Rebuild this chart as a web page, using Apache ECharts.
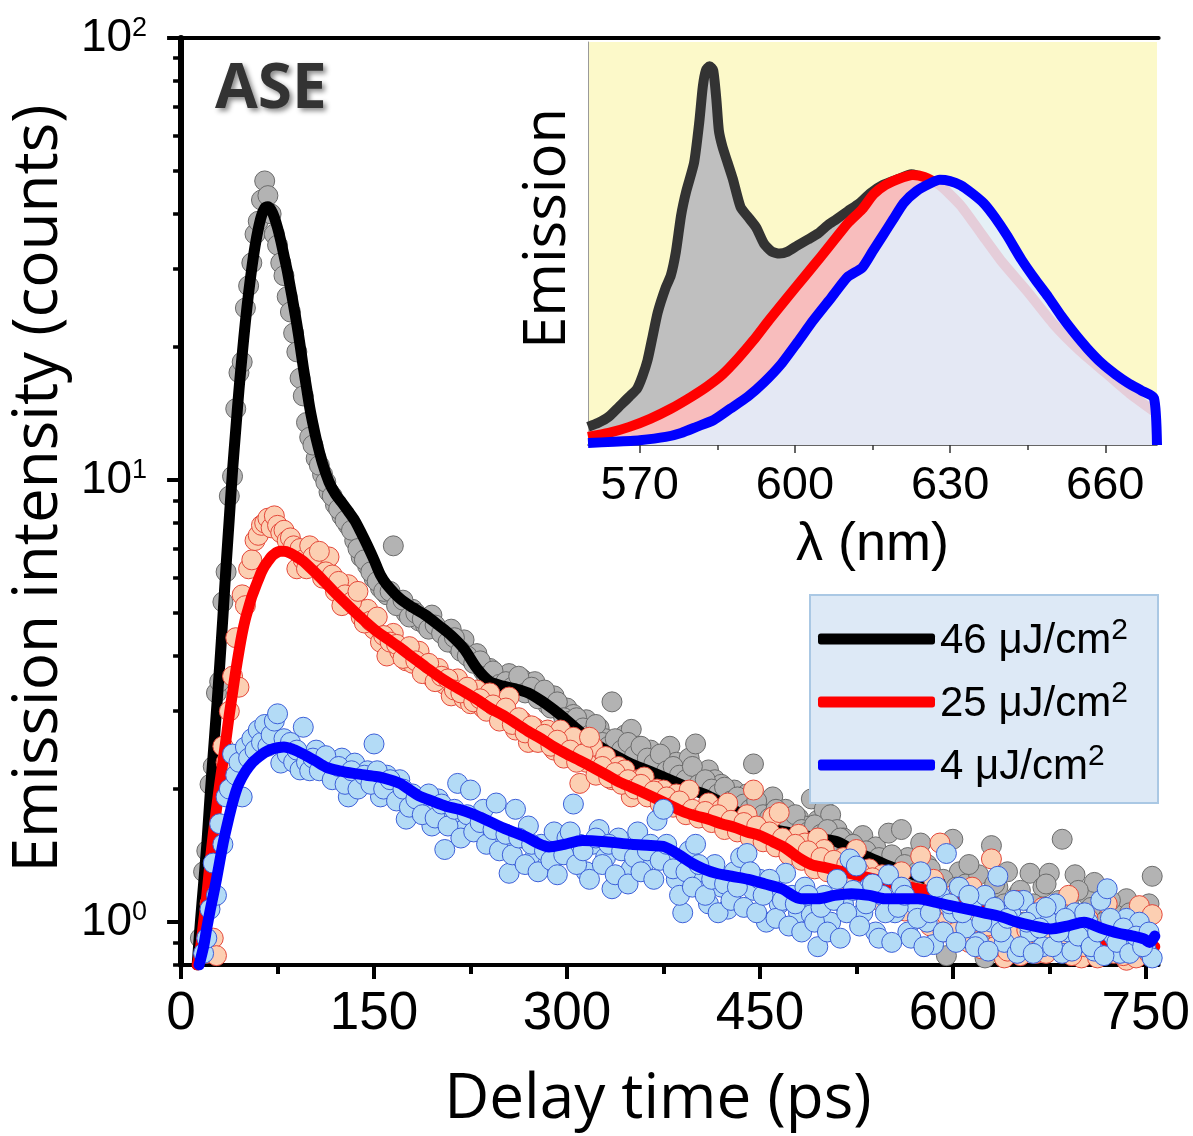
<!DOCTYPE html>
<html><head><meta charset="utf-8">
<script src="https://cdn.jsdelivr.net/npm/echarts@6/dist/echarts.min.js"></script>
<style>html,body{margin:0;padding:0;background:#fff}#c{width:1193px;height:1136px}</style>
</head><body><div id="c"></div>
<script>
// ---------- main panel: decay traces ----------
const delayPs = [15,17.5,20,22.5,25,27.5,30,32.5,35,37.5,40,42.5,45,47.5,50,52.5,55,57.5,60,62.5,65,67.5,70,72.5,75,77.5,80,82.5,85,87.5,90,92.5,95,97.5,100,
105,110,115,120,125,130,135,140,145,150,155,160,165,170,175,180,185,190,195,200,
205,210,215,220,225,230,235,240,245,250,255,260,265,270,275,280,285,290,295,300,
305,310,315,320,325,330,335,340,345,350,355,360,365,370,375,380,385,390,395,400,
405,410,415,420,425,430,435,440,445,450,455,460,465,470,475,480,485,490,495,500,
505,510,515,520,525,530,535,540,545,550,555,560,565,570,575,580,585,590,595,600,
605,610,615,620,625,630,635,640,645,650,655,660,665,670,675,680,685,690,695,700,
705,710,715,720,725,730,735,740,745,750,755];

const counts46 = [0.92,1.3,1.45,2.05,2.25,3.3,3.5,5.3,6.2,9.2,10.2,14.5,17.5,18.5,24.5,27.5,31,36,38.5,43,47.5,44,40,36,34,31,29,26,24,21.5,19.5,17,15.5,13.5,12.5,
11.2,10.3,9.4,8.8,8.3,7.9,7.3,6.7,6.4,6.0,5.7,5.5,7.1,5.3,5.0,5.1,4.8,4.7,4.95,4.6,
4.45,4.6,4.2,4.35,3.95,4.05,3.7,3.75,3.6,3.55,3.65,3.45,3.55,3.35,3.5,3.3,3.1,3.25,3.0,3.05,
2.95,2.8,2.87,2.7,2.75,2.6,3.15,2.55,2.65,2.73,2.5,2.42,2.45,2.35,2.3,2.5,2.3,2.2,2.35,2.53,
2.15,2.21,2.1,2.05,1.95,1.99,1.9,1.95,2.28,1.85,1.78,1.92,1.75,1.8,1.7,1.72,1.65,1.9,1.7,1.8,
1.75,1.62,1.55,1.5,1.45,1.57,1.42,1.48,1.38,1.59,1.35,1.62,1.4,1.3,1.51,1.35,1.25,1.2,0.84,1.54,
1.3,1.22,1.15,1.28,0.83,1.49,1.2,1.1,1.05,1.15,1.0,1.29,1.08,1.2,1.29,0.95,1.54,1.1,1.28,1.02,
1.15,1.23,0.98,1.08,0.92,1.05,1.13,0.95,1.02,0.9,1.27];

const counts25 = [null,null,0.85,1.1,0.92,0.84,1.6,2.5,2.3,3.0,3.6,4.4,3.4,5.5,5.2,6.3,6.6,7.3,7.5,7.9,8.0,8.2,7.8,8.3,7.9,7.6,7.7,7.3,7.4,7.1,6.3,7.0,6.6,6.3,7.1,
6.4,6.0,6.7,5.6,5.2,5.8,5.4,4.9,5.1,4.6,4.3,4.0,4.5,4.1,3.9,3.85,4.1,3.7,3.58,3.75,
3.45,3.25,3.55,3.2,3.12,3.35,3.05,3.3,3.0,2.95,3.23,2.72,2.85,2.55,2.75,2.6,2.72,2.45,2.72,2.38,
2.62,2.06,2.3,2.5,2.2,2.37,2.1,2.25,2.21,1.92,2.1,2.13,1.95,2.0,1.99,1.85,1.95,1.8,1.99,1.78,
1.73,1.86,1.7,1.8,1.86,1.68,1.62,1.75,1.99,1.6,1.55,1.73,1.77,1.5,1.45,1.58,1.51,1.38,1.55,1.46,
1.35,1.3,1.4,1.25,1.46,1.2,1.32,1.15,1.28,1.22,1.1,1.3,1.18,1.05,1.41,1.12,1.25,1.51,1.0,1.15,
0.92,1.08,1.2,0.98,1.1,1.39,0.95,0.83,1.05,1.12,0.9,1.0,0.85,1.08,0.92,0.98,0.87,1.15,0.95,0.83,
1.02,0.88,0.95,1.1,0.85,0.92,0.82,1.0,1.09,0.86,1.04];

const counts4 = [null,0.85,0.92,1.07,1.36,1.15,1.67,1.5,1.92,2.0,2.4,2.15,2.3,1.92,2.49,2.35,2.6,2.45,2.72,2.55,2.8,2.5,2.65,2.85,2.96,2.29,2.6,2.4,2.55,2.3,2.45,2.21,2.76,2.3,2.2,
2.45,2.3,2.2,2.17,2.35,1.92,2.29,2.1,2.2,2.53,1.92,2.15,2.0,2.1,1.71,1.95,1.8,1.85,1.65,1.9,
1.46,1.75,2.06,1.62,1.99,1.7,1.8,1.6,1.86,1.5,1.29,1.8,1.55,1.65,1.4,1.5,1.35,1.6,1.42,1.55,
1.85,1.5,1.3,1.5,1.62,1.4,1.19,1.55,1.45,1.32,1.6,1.36,1.5,1.7,1.8,1.4,1.25,1.05,1.45,1.5,
1.3,1.1,1.35,1.2,1.07,1.3,1.4,1.43,1.18,1.25,1.0,1.2,1.1,1.29,1.15,1.05,1.2,1.04,0.88,1.15,
1.0,1.25,1.1,1.39,1.34,1.05,1.2,0.95,1.15,1.28,1.05,1.2,0.95,1.1,1.3,1.0,0.89,1.15,1.43,1.05,
1.2,0.97,1.1,0.9,1.15,1.0,1.27,0.9,1.05,0.85,1.12,0.95,1.05,0.88,1.0,1.1,0.85,0.95,1.05,0.9,
1.0,0.86,1.12,1.19,0.93,0.85,1.02,0.9,1.0,0.87,0.83];

// interleaved delays (second half of the sampling)
const delayPsB = [102.5,107.5,112.5,117.5,122.5,127.5,132.5,137.5,142.5,147.5,152.5,157.5,162.5,167.5,172.5,177.5,182.5,187.5,192.5,197.5,
202.5,207.5,212.5,217.5,222.5,227.5,232.5,237.5,242.5,247.5,252.5,257.5,262.5,267.5,272.5,277.5,282.5,287.5,292.5,297.5,
302.5,307.5,312.5,317.5,322.5,327.5,332.5,337.5,342.5,347.5,352.5,357.5,362.5,367.5,372.5,377.5,382.5,387.5,392.5,397.5,
402.5,407.5,412.5,417.5,422.5,427.5,432.5,437.5,442.5,447.5,452.5,457.5,462.5,467.5,472.5,477.5,482.5,487.5,492.5,497.5,
502.5,507.5,512.5,517.5,522.5,527.5,532.5,537.5,542.5,547.5,552.5,557.5,562.5,567.5,572.5,577.5,582.5,587.5,592.5,597.5,
602.5,607.5,612.5,617.5,622.5,627.5,632.5,637.5,642.5,647.5,652.5,657.5,662.5,667.5,672.5,677.5,682.5,687.5,692.5,697.5,
702.5,707.5,712.5,717.5,722.5,727.5,732.5,737.5,742.5,747.5,752.5];

const counts46b = [12.0,10.8,9.9,9.2,8.6,8.1,7.7,7.0,6.6,6.2,5.9,5.6,5.6,5.2,5.35,4.9,5.0,4.85,4.6,4.7,
4.5,4.3,4.4,4.1,4.0,3.85,3.9,3.6,3.7,3.45,3.5,3.4,3.6,3.3,3.4,3.2,3.35,3.05,3.15,2.9,
2.85,2.9,2.75,2.65,2.8,2.55,2.5,2.6,2.45,2.55,2.38,2.5,2.35,2.28,2.4,2.2,2.25,2.15,2.1,2.25,
2.05,2.1,2.0,1.95,2.02,1.88,1.92,1.85,1.8,1.88,1.75,1.72,1.8,1.68,1.65,1.75,1.62,1.6,1.66,1.58,
1.62,1.5,1.55,1.45,1.5,1.38,1.45,1.35,1.4,1.3,1.42,1.28,1.35,1.22,1.3,1.18,1.32,1.15,1.25,1.1,
1.2,1.05,1.35,1.0,1.12,0.95,1.22,1.02,1.3,0.9,1.18,0.97,1.1,0.88,1.22,1.0,1.12,0.93,1.05,1.18,
0.9,1.08,0.86,1.0,1.12,0.88,0.98,1.05,0.85,0.95,1.1];

const counts25b = [6.7,6.9,6.2,6.1,5.9,5.5,5.3,5.6,4.75,4.8,4.9,4.45,4.3,4.25,3.95,4.2,3.9,3.65,3.85,3.5,
3.6,3.55,3.35,3.3,3.4,3.15,3.2,3.0,3.1,2.85,3.05,2.8,2.9,2.68,2.78,2.55,2.66,2.5,2.58,2.35,
2.45,2.3,2.4,2.62,2.15,2.25,2.12,2.18,2.05,2.1,2.0,2.05,1.92,1.98,1.85,1.92,1.82,1.88,1.75,1.8,
1.72,1.78,1.68,1.75,1.62,1.7,1.6,1.68,1.55,1.65,1.52,1.6,1.48,1.55,1.42,1.5,1.38,1.45,1.32,1.4,
1.3,1.38,1.25,1.35,1.22,1.3,1.18,1.26,1.12,1.22,1.1,1.2,1.06,1.15,1.02,1.12,0.98,1.1,0.95,1.08,
0.95,1.05,0.9,1.0,0.87,0.98,0.88,1.02,0.86,0.95,0.84,0.96,0.88,0.93,0.85,1.02,0.88,0.94,0.84,0.97,
0.88,0.93,0.83,0.9,0.86,0.96,0.84,0.9,0.83,0.94,0.85];

const counts4b = [2.35,2.2,2.38,2.1,2.25,2.05,2.2,2.0,2.15,2.05,2.2,2.0,2.1,1.88,2.0,1.82,1.9,1.75,1.95,1.72,
1.85,1.65,1.8,1.55,1.75,1.6,1.68,1.5,1.62,1.45,1.58,1.42,1.55,1.35,1.5,1.3,1.45,1.38,1.28,1.42,
1.6,1.35,1.45,1.25,1.55,1.35,1.5,1.28,1.45,1.22,1.4,1.3,1.45,1.25,1.38,1.5,1.32,1.15,1.3,1.2,
1.35,1.15,1.25,1.05,1.22,1.12,1.2,1.08,1.3,1.05,1.15,1.25,1.02,1.12,0.98,1.1,0.95,1.15,1.0,1.08,
0.95,1.12,0.92,1.05,1.18,0.98,1.1,1.22,0.92,1.05,0.9,1.08,1.15,0.92,1.02,0.88,1.05,1.2,0.95,1.1,
0.9,1.05,1.15,0.88,1.0,0.86,1.08,0.95,1.02,1.12,0.88,1.0,0.85,0.97,1.08,0.88,0.95,1.02,0.86,0.93,
1.05,0.88,0.95,0.84,1.02,0.9,0.97,0.85,0.93,0.88,0.95];

// fitted curves
const fit46Time = [12.5,15,17.5,20,22.5,25,27.5,30,32.5,35,37.5,40,42.5,45,47.5,50,52.5,55,57.5,60,62.5,65,67.5,70,72.5,75,77.5,80,82.5,85,87.5,90,92.5,95,97.5,100,102.5,105,110,115,120,125,130,135,140,145,150,155,160,170,180,190,200,210,220,230,240,250,260,270,280,290,300,310,320,330,340,350,360,370,380,390,400,410,420,430,440,450,460,470,480,490,500,510,520,530,540,550,560,570,580,590];
const fit46 = [0.8,1.0,1.22,1.5,1.92,2.4,3.0,3.8,4.9,6.4,8.2,10.5,13.0,16,19.2,22.8,26.5,30.2,33.8,37,39.6,41.2,41.5,40.8,39.3,37.2,34.8,32.2,29.8,27.2,24.8,22.5,20.2,18,16.2,14.6,13.4,12.4,10.9,9.9,9.3,8.9,8.5,8.1,7.6,7.1,6.6,6.1,5.8,5.4,5.15,4.95,4.7,4.45,4.15,3.75,3.5,3.42,3.37,3.3,3.17,3.02,2.86,2.7,2.56,2.45,2.36,2.28,2.22,2.16,2.1,2.04,1.98,1.93,1.86,1.79,1.72,1.66,1.62,1.6,1.58,1.56,1.54,1.52,1.47,1.42,1.38,1.34,1.31,1.28,1.25,1.23];

const fit25Time = [12.5,15,17.5,20,22.5,25,27.5,30,32.5,35,37.5,40,42.5,45,47.5,50,52.5,55,57.5,60,62.5,65,67.5,70,72.5,75,77.5,80,85,90,95,100,110,120,130,140,150,160,170,180,190,200,210,220,230,240,250,260,270,280,290,300,310,320,330,340,350,360,370,380,390,400,410,420,430,440,450,460,470,480,490,500,510,520,540,560,585,600,620,650,680,710,740,757];
const fit25 = [0.8,0.87,1.0,1.15,1.36,1.58,1.8,2.05,2.3,2.6,2.95,3.3,3.7,4.1,4.5,4.85,5.15,5.45,5.7,5.95,6.2,6.4,6.55,6.7,6.8,6.87,6.9,6.9,6.83,6.7,6.55,6.35,5.95,5.55,5.2,4.88,4.6,4.38,4.18,3.97,3.78,3.6,3.45,3.32,3.19,3.05,2.94,2.82,2.7,2.6,2.49,2.4,2.32,2.24,2.16,2.08,2.02,1.96,1.9,1.84,1.78,1.74,1.71,1.67,1.64,1.6,1.57,1.52,1.47,1.4,1.35,1.33,1.31,1.29,1.25,1.21,1.17,1.12,1.08,1.01,0.96,0.91,0.89,0.88];

const fit4Time = [14,17.5,20,22.5,25,27.5,30,32.5,35,37.5,40,42.5,45,50,55,60,65,70,75,80,87,95,104,113,123,134,144,154,162,170,178,185,195,206,216,226,236,247,258,268,277,286,298,312,330,350,365,376,387,397,406,416,428,441,454,467,482,495,508,521,535,547,560,573,586,598,611,624,637,650,663,676,689,702,715,728,740,749,753,757];
const fit4 = [0.8,0.88,0.97,1.06,1.15,1.25,1.37,1.5,1.62,1.74,1.86,1.97,2.06,2.19,2.29,2.36,2.42,2.46,2.48,2.49,2.46,2.4,2.32,2.24,2.2,2.17,2.15,2.13,2.1,2.06,1.99,1.93,1.88,1.83,1.8,1.76,1.71,1.65,1.6,1.56,1.51,1.48,1.5,1.53,1.52,1.5,1.49,1.48,1.42,1.36,1.32,1.29,1.27,1.25,1.22,1.19,1.13,1.13,1.15,1.16,1.15,1.13,1.13,1.13,1.11,1.09,1.07,1.05,1.03,1.0,0.98,0.965,0.98,1.0,0.97,0.945,0.93,0.915,0.9,0.93];

const xMajorTicks = [0,150,300,450,600,750];
const xMinorTicks = [75,225,375,525,675];
const yMajorTicks = [1,10,100];
const yMinorTicks = [0.8,0.9,2,3,4,5,6,7,8,9,20,30,40,50,60,70,80,90];

// ---------- inset: emission spectra ----------
const spec46Nm = [560,562,564,566,568,569.5,570.5,571.5,572.5,573.5,575,576,577,578,579,580.5,581.5,582.2,582.8,583.5,584.2,584.8,585.3,586,587,588,589.5,591,592.5,594,595.5,597,598.6,600.5,602.5,604.5,606.3,608,610.2,612.5,614.6,617,620,622.5,625,628,632,636,640,645,650,655,660,665,670];
const spec46 = [0.045,0.055,0.07,0.095,0.12,0.14,0.17,0.21,0.27,0.33,0.39,0.42,0.48,0.57,0.63,0.70,0.80,0.89,0.93,0.94,0.93,0.86,0.78,0.74,0.70,0.66,0.59,0.565,0.54,0.5,0.48,0.475,0.48,0.495,0.51,0.525,0.545,0.56,0.58,0.60,0.625,0.645,0.66,0.672,0.66,0.635,0.58,0.51,0.44,0.36,0.28,0.215,0.16,0.11,0.07];
const spec25Nm = [560,564,568,572,576,580,583,586,589,592,595,598.6,602,605,608,610.2,613,615.2,617.5,620,622.8,625,628,632,636,640,645,650,655,660,665,670];
const spec25 = [0.02,0.03,0.045,0.065,0.09,0.12,0.145,0.175,0.215,0.26,0.31,0.367,0.42,0.467,0.515,0.55,0.585,0.622,0.645,0.66,0.67,0.665,0.645,0.595,0.525,0.455,0.38,0.3,0.235,0.18,0.125,0.078];
const spec4Nm = [560,565,570,575,578,581,584.3,587.5,590.9,594,597.3,600.5,603.6,607,610.2,613,615,617,619,621,623.5,626.3,628,630,632,634.2,636.5,638.6,641,643.8,646.5,649,651.5,654,656.5,659.3,662,664.4,667,669.4,670];
const spec4 = [0.005,0.008,0.012,0.02,0.03,0.045,0.062,0.09,0.12,0.155,0.2,0.255,0.31,0.365,0.417,0.44,0.48,0.52,0.56,0.6,0.63,0.65,0.658,0.655,0.645,0.625,0.6,0.566,0.52,0.46,0.41,0.367,0.32,0.278,0.24,0.203,0.175,0.154,0.135,0.117,0];
const insetMajorTicks = [570,600,630,660];
const insetMinorTicks = [585,615,645];

const seriesNames = ['46 \u03bcJ/cm\u00b2','25 \u03bcJ/cm\u00b2','4 \u03bcJ/cm\u00b2'];

// ---------- build ----------
const zip = (xs, ys) => xs.map((x, i) => [x, ys[i]]).filter(d => d[1] != null);
const chart = echarts.init(document.getElementById('c'), null, {renderer: 'canvas'});

const numFont = 'Liberation Sans, Arial, sans-serif';
const titleFont = 'Open Sans, sans-serif';

function scatter(name, data, fill, stroke, z) {
  return {type: 'scatter', name, xAxisIndex: 0, yAxisIndex: 0, data, symbol: 'circle', symbolSize: 20,
    itemStyle: {color: fill, borderColor: stroke, borderWidth: 1, opacity: 1}, silent: true, z};
}
function fitLine(name, data, color, z) {
  return {type: 'line', name, xAxisIndex: 0, yAxisIndex: 0, data, showSymbol: false, symbol: 'none', smooth: 0.3,
    lineStyle: {color, width: 11, cap: 'round', join: 'round'}, itemStyle: {color}, silent: true, z};
}
function specLine(name, data, color, fill, z) {
  return {type: 'line', name, xAxisIndex: 3, yAxisIndex: 3, data, showSymbol: false, symbol: 'none', smooth: 0.2,
    lineStyle: {color, width: 10, join: 'round'}, areaStyle: {color: fill, opacity: 1}, silent: true, z};
}

const option = {
  backgroundColor: '#ffffff',
  animation: false,
  grid: [
    {left: 181, right: 33, top: 38, bottom: 167, show: false},
    {left: 588, right: 36, top: 42, bottom: 691, show: true, backgroundColor: '#fcf9c9', borderWidth: 0}
  ],
  xAxis: [
    {gridIndex: 0, type: 'value', min: 0, max: 760, position: 'bottom',
     axisLine: {show: true, lineStyle: {color: '#000', width: 4}},
     axisTick: {show: true, customValues: xMajorTicks, length: 14, lineStyle: {color: '#000', width: 4}},
     axisLabel: {customValues: xMajorTicks, fontSize: 53, fontFamily: numFont, color: '#000', margin: 23},
     splitLine: {show: false},
     name: 'Delay time (ps)', nameLocation: 'middle', nameGap: 104,
     nameTextStyle: {fontSize: 62, fontFamily: titleFont, color: '#000', padding: [0, 24, 0, 0]}},
    {gridIndex: 0, type: 'value', min: 0, max: 760, position: 'bottom',
     axisLine: {show: false},
     axisTick: {show: true, customValues: xMinorTicks, length: 9, lineStyle: {color: '#000', width: 4}},
     axisLabel: {show: false}, splitLine: {show: false}},
    {gridIndex: 0, type: 'value', min: 0, max: 760, position: 'top',
     axisLine: {show: true, lineStyle: {color: '#000', width: 4}},
     axisTick: {show: false}, axisLabel: {show: false}, splitLine: {show: false}},
    {gridIndex: 1, type: 'value', min: 560, max: 670, position: 'bottom',
     axisLine: {show: true, lineStyle: {color: '#333', width: 1.5}},
     axisTick: {show: true, customValues: insetMajorTicks, length: 8, lineStyle: {color: '#333', width: 1.5}},
     axisLabel: {customValues: insetMajorTicks, fontSize: 47, fontFamily: numFont, color: '#000', margin: 18},
     splitLine: {show: false},
     name: '\u03bb (nm)', nameLocation: 'middle', nameGap: 73,
     nameTextStyle: {fontSize: 54, fontFamily: numFont, color: '#000'}},
    {gridIndex: 1, type: 'value', min: 560, max: 670, position: 'bottom',
     axisLine: {show: false},
     axisTick: {show: true, customValues: insetMinorTicks, length: 5, lineStyle: {color: '#333', width: 1.5}},
     axisLabel: {show: false}, splitLine: {show: false}}
  ],
  yAxis: [
    {gridIndex: 0, type: 'log', logBase: 10, min: 0.8, max: 100, position: 'left',
     axisLine: {show: true, lineStyle: {color: '#000', width: 4}},
     axisTick: {show: true, customValues: yMajorTicks, length: 14, lineStyle: {color: '#000', width: 4}},
     axisLabel: {customValues: yMajorTicks, margin: 34, color: '#000',
       formatter: function (v) {
         const l = Math.log10(v), e = Math.round(l);
         if (Math.abs(l - e) > 1e-6) return '';
         return '{b|10}{s|' + e + '}';
       },
       rich: {b: {fontSize: 46, fontFamily: numFont, color: '#000', lineHeight: 46, verticalAlign: 'bottom'},
              s: {fontSize: 27, fontFamily: numFont, color: '#000', lineHeight: 27, verticalAlign: 'top'}}},
     splitLine: {show: false},
     name: 'Emission intensity (counts)', nameLocation: 'middle', nameGap: 103, nameRotate: 90,
     nameTextStyle: {fontSize: 62, fontFamily: titleFont, color: '#000', padding: [0, 0, 0, 26]}},
    {gridIndex: 0, type: 'log', logBase: 10, min: 0.8, max: 100, position: 'left',
     axisLine: {show: false},
     axisTick: {show: true, customValues: yMinorTicks, length: 8, lineStyle: {color: '#000', width: 3.5}},
     axisLabel: {show: false}, splitLine: {show: false}},
    {gridIndex: 0, type: 'log', logBase: 10, min: 0.8, max: 100, position: 'right',
     axisLine: {show: true, lineStyle: {color: '#000', width: 6}},
     axisTick: {show: false}, axisLabel: {show: false}, splitLine: {show: false}},
    {gridIndex: 1, type: 'value', min: 0, max: 1, position: 'left',
     axisLine: {show: true, lineStyle: {color: '#9a9a9a', width: 1}},
     axisTick: {show: false}, axisLabel: {show: false}, splitLine: {show: false},
     name: 'Emission', nameLocation: 'middle', nameGap: 11, nameRotate: 90,
     nameTextStyle: {fontSize: 58, fontFamily: titleFont, color: '#000', padding: [0, 0, 0, 30]}}
  ],
  legend: {
    data: seriesNames, orient: 'vertical', left: 818, top: 616, padding: 0, itemGap: 17,
    itemWidth: 117, itemHeight: 11, icon: 'roundRect', z: 20, selectedMode: false,
    formatter: function (name) { return '{t|' + name.replace('\u00b2', '') + '}{s|2}'; },
    textStyle: {color: '#000', fontSize: 42, fontFamily: numFont,
      rich: {t: {fontSize: 42, fontFamily: numFont, color: '#000', lineHeight: 46, verticalAlign: 'bottom'},
             s: {fontSize: 30, fontFamily: numFont, color: '#000', lineHeight: 30, verticalAlign: 'top'}}}
  },
  graphic: [
    {type: 'rect', z: 15, shape: {x: 810, y: 595, width: 348, height: 208},
     style: {fill: '#dde9f6', stroke: '#aac8e4', lineWidth: 2}, silent: true},
    {type: 'text', z: 15, x: 215, y: 90,
     style: {text: 'ASE', font: 'bold 62px "Open Sans", sans-serif', fill: '#333333', verticalAlign: 'middle', align: 'left',
       textShadowColor: 'rgba(0,0,0,0.45)', textShadowBlur: 5, textShadowOffsetX: 3, textShadowOffsetY: 3}, silent: true}
  ],
  series: [
    scatter('46 data', zip(delayPs, counts46).concat(zip(delayPsB, counts46b)), '#b3b3b3', '#6b6b6b', 2),
    fitLine(seriesNames[0], zip(fit46Time, fit46), '#000000', 3),
    scatter('25 data', zip(delayPs, counts25).concat(zip(delayPsB, counts25b)), '#fccfb2', '#e5483a', 4),
    fitLine(seriesNames[1], zip(fit25Time, fit25), '#ff0000', 5),
    scatter('4 data', zip(delayPs, counts4).concat(zip(delayPsB, counts4b)), '#b3dbf6', '#3c5fd9', 6),
    fitLine(seriesNames[2], zip(fit4Time, fit4), '#0000ff', 7),
    specLine('46 spectrum', zip(spec46Nm, spec46), '#333333', '#bfbfbf', 2),
    specLine('25 spectrum', zip(spec25Nm, spec25), '#ff0000', '#f8bdbd', 3),
    specLine('4 spectrum', zip(spec4Nm, spec4), '#0000ff', 'rgba(225,239,253,0.86)', 4)
  ]
};
chart.setOption(option);
</script>
</body></html>
